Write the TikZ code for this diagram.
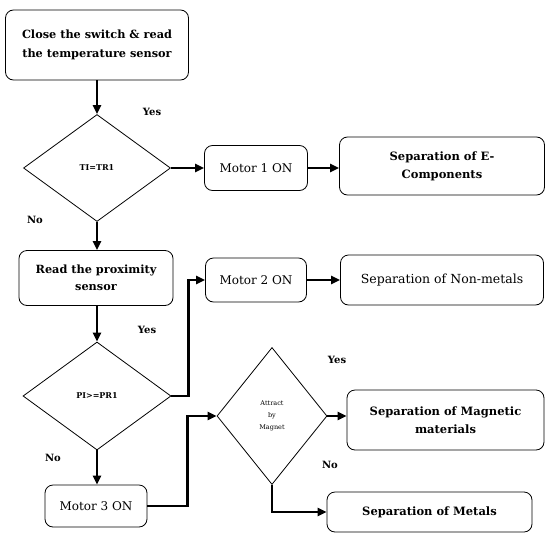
\documentclass[tikz,border=0pt]{standalone}
\usepackage{fontspec}
\setmainfont{DejaVu Serif}
\usetikzlibrary{shapes.geometric,arrows.meta}
\begin{document}
\begin{tikzpicture}[x=1pt,y=-1pt,
  box/.style={draw,rounded corners=8pt,line width=0.8pt,align=center,inner sep=2pt,font=\fontsize{12}{17}\selectfont},
  dia/.style={draw,diamond,line width=0.8pt,inner sep=0pt,align=center},
  flow/.style={line width=2.6pt,-{Triangle[length=9pt,width=8pt]}},
  lbl/.style={font=\fontsize{10}{12}\selectfont\bfseries}]
\fill[white] (0,0) rectangle (546,533);
\useasboundingbox (0,0) rectangle (546,533);
% left column
\node[box,minimum width=183,minimum height=70,font=\fontsize{11.3}{19}\selectfont\bfseries] (b1) at (97,45) {Close the switch \& read\\the temperature sensor};
\node[dia,minimum width=147,minimum height=107,font=\fontsize{8}{9}\selectfont\bfseries] (d1) at (97,168) {TI=TR1};
\node[box,minimum width=154,minimum height=55,font=\fontsize{11.3}{17}\selectfont\bfseries] (b2) at (96,278) {Read the proximity\\sensor};
\node[dia,minimum width=148,minimum height=108,font=\fontsize{8}{9}\selectfont\bfseries] (d2) at (97,396) {PI>=PR1};
\node[box,minimum width=102,minimum height=42] (m3) at (96,506) {Motor 3 ON};
% middle column
\node[box,minimum width=103,minimum height=45] (m1) at (256,168) {Motor 1 ON};
\node[box,minimum width=101,minimum height=44] (m2) at (256,280) {Motor 2 ON};
\node[dia,minimum width=110,minimum height=137,font=\fontsize{6.5}{12}\selectfont] (d3) at (272,416) {Attract\\by\\Magnet};
% right column
\node[box,minimum width=205,minimum height=58,font=\fontsize{11.5}{18}\selectfont\bfseries] (s1) at (442,166) {Separation of E-\\Components};
\node[box,minimum width=203,minimum height=50,font=\fontsize{12.5}{17}\selectfont] (s2) at (442,280) {Separation of Non-metals};
\node[box,minimum width=197,minimum height=60,font=\fontsize{11.5}{18}\selectfont\bfseries] (s3) at (445.5,420) {Separation of Magnetic\\materials};
\node[box,minimum width=205,minimum height=40,font=\fontsize{11.5}{17}\selectfont\bfseries] (s4) at (429.5,512) {Separation of Metals};
% labels
\node[lbl] (y1) at (152,112) {Yes};
\node[lbl] (n1) at (35,220) {No};
\node[lbl] (y2) at (147,330) {Yes};
\node[lbl] (n2) at (53,458) {No};
\node[lbl] (y3) at (337,360) {Yes};
\node[lbl] (n3) at (330,465) {No};
% connectors
\draw[flow] (b1.south) -- (d1.north);
\draw[flow] (d1.east) -- (m1.west);
\draw[flow] (m1.east) -- (s1.west |- m1.east);
\draw[flow] (d1.south) -- (b2.north -| d1.south);
\draw[flow] (b2.south -| d2.north) -- (d2.north);
\draw[flow] (d2.east) -- ++(17,0) |- (m2.west);
\draw[flow] (m2.east) -- (s2.west);
\draw[flow] (d2.south) -- (m3.north -| d2.south);
\draw[flow] (m3.east) -- ++(40,0) |- (d3.west);
\draw[flow] (d3.east) -- (s3.west |- d3.east);
\draw[flow] (d3.south) |- (s4.west);
\end{tikzpicture}
\end{document}
